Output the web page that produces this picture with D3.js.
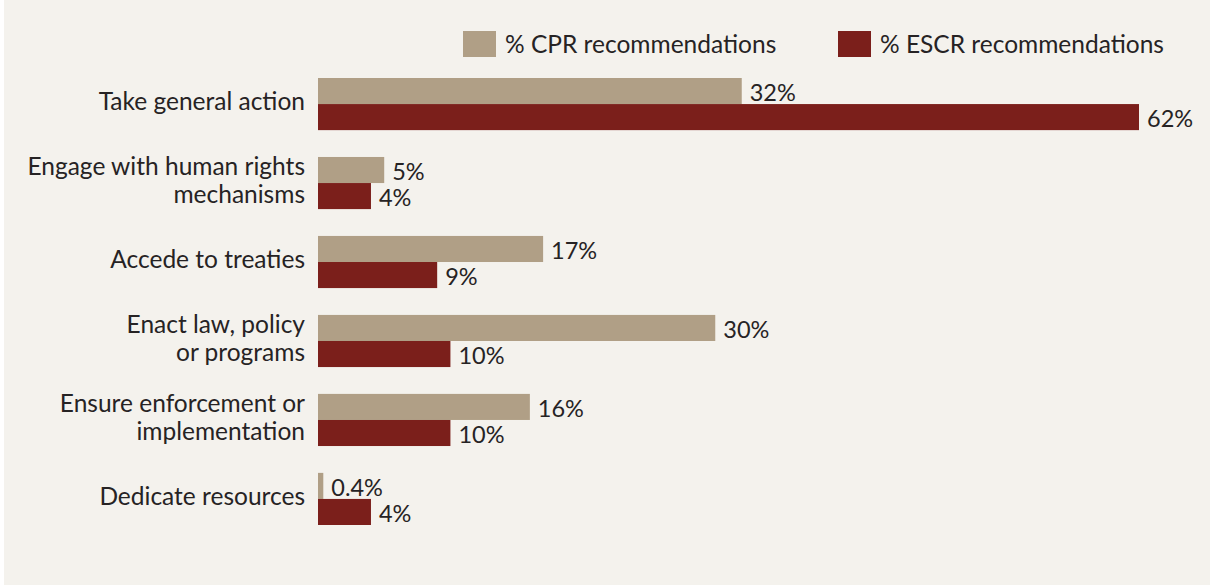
<!DOCTYPE html>
<html>
<head>
<meta charset="utf-8">
<script src="https://cdn.jsdelivr.net/npm/d3@7"></script>
<style>
  body { margin: 0; background: #ffffff; }
  text { font-family: Lato, "Open Sans", sans-serif; fill: #262324; }
</style>
</head>
<body>
<svg id="chart"></svg>
<script>
// values
const categories = [
    ["Take general action"],
    ["Engage with human rights", "mechanisms"],
    ["Accede to treaties"],
    ["Enact law, policy", "or programs"],
    ["Ensure enforcement or", "implementation"],
    ["Dedicate resources"]
];
const cprValues = [32, 5, 17, 30, 16, 0.4];
const escrValues = [62, 4, 9, 10, 10, 4];
const seriesNames = ["% CPR recommendations", "% ESCR recommendations"];
const colors = ["#b09f86", "#7b1f1b"];

const width = 1210;
const height = 588;

const svg = d3.select("#chart")
    .attr("width", width)
    .attr("height", height);

svg.append("rect")
    .attr("x", 4).attr("y", 0)
    .attr("width", width - 4).attr("height", 585)
    .attr("fill", "#f4f2ed");

const keys = categories.map((c, i) => i);

const yScale = d3.scaleBand()
    .domain(keys)
    .range([78, 525])
    .paddingInner(0.34)
    .paddingOuter(0);

const xScale = d3.scaleLinear()
    .domain([0, 62])
    .range([318, 1139]);

const inner = d3.scaleBand()
    .domain([0, 1])
    .range([0, yScale.bandwidth()]);

const rows = keys.map(i => ({ i: i, vals: [cprValues[i], escrValues[i]] }));

const group = svg.selectAll("g.row")
    .data(rows)
    .enter()
    .append("g")
    .attr("class", "row")
    .attr("transform", d => `translate(0, ${yScale(d.i)})`);

group.selectAll("rect")
    .data(d => d.vals)
    .enter()
    .append("rect")
    .attr("x", xScale(0))
    .attr("y", (v, j) => inner(j))
    .attr("width", v => xScale(v) - xScale(0))
    .attr("height", inner.bandwidth())
    .attr("fill", (v, j) => colors[j]);

group.selectAll("text.val")
    .data(d => d.vals)
    .enter()
    .append("text")
    .attr("class", "val")
    .attr("x", v => xScale(v) + 8)
    .attr("y", (v, j) => inner(j) + inner.bandwidth() / 2 + 2)
    .attr("dy", "0.35em")
    .attr("font-size", 23.5)
    .text(v => v + "%");

// category labels
group.each(function(d) {
    const lines = categories[d.i];
    const lh = 28;
    const t = d3.select(this).append("text")
        .attr("text-anchor", "end")
        .attr("font-size", 24.5);
    lines.forEach((ln, k) => {
        t.append("tspan")
            .attr("x", 305)
            .attr("y", yScale.bandwidth() / 2 - 3 + (k - (lines.length - 1) / 2) * lh)
            .attr("dy", "0.35em")
            .text(ln);
    });
});

// legend
const legendX = [463, 838];
const legend = svg.selectAll("g.legend")
    .data(seriesNames)
    .enter()
    .append("g")
    .attr("class", "legend")
    .attr("transform", (d, i) => `translate(${legendX[i]}, 31)`);

legend.append("rect")
    .attr("width", 33)
    .attr("height", 26)
    .attr("fill", (d, i) => colors[i]);

legend.append("text")
    .attr("x", 42)
    .attr("y", 13)
    .attr("dy", "0.35em")
    .attr("font-size", 24.5)
    .text(d => d);
</script>
</body>
</html>
